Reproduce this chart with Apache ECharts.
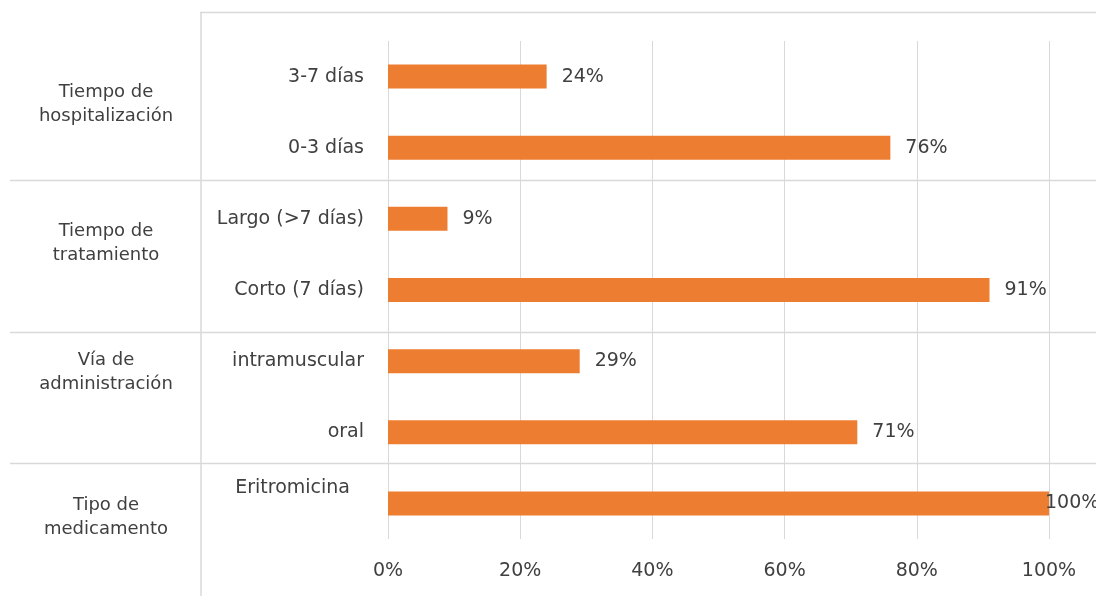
<!DOCTYPE html>
<html>
<head>
<meta charset="utf-8">
<script src="https://cdn.jsdelivr.net/npm/echarts@6/dist/echarts.min.js"></script>
<style>
  html, body { margin: 0; padding: 0; background: #fff; }
  #chart { width: 1096px; height: 596px; }
</style>
</head>
<body>
<div id="chart"></div>
<script>
// Rows, top to bottom
const categories = ['3-7 días', '0-3 días', 'Largo (>7 días)', 'Corto (7 días)', 'intramuscular', 'oral', 'Eritromicina'];
// Share of patients (%)
const values = [24, 76, 9, 91, 29, 71, 100];
// Groups: label lines and the row indices each group spans
const groupNames = [
  ['Tiempo de', 'hospitalización'],
  ['Tiempo de', 'tratamiento'],
  ['Vía de', 'administración'],
  ['Tipo de', 'medicamento']
];
const groupRows = [[0, 1], [2, 3], [4, 5], [6, 6]];
const xTicks = [0, 20, 40, 60, 80, 100];

const FONT = 'DejaVu Sans';
const TEXT = '#404040';
const GRID = '#d9d9d9';
const ORANGE = '#ED7D31';

const chart = echarts.init(document.getElementById('chart'), null, { renderer: 'canvas' });

const barData = values.map(v => (v >= 100 ? { value: v, label: { offset: [-19, 0] } } : v));

chart.setOption({
  animation: false,
  backgroundColor: '#fff',
  grid: { left: 388, right: 47, top: 41, bottom: 57 },
  xAxis: {
    type: 'value',
    min: xTicks[0],
    max: xTicks[xTicks.length - 1],
    interval: xTicks[1] - xTicks[0],
    axisLine: { show: false },
    axisTick: { show: false },
    splitLine: { lineStyle: { color: GRID, width: 1 } },
    axisLabel: {
      formatter: '{value}%',
      color: TEXT,
      fontFamily: FONT,
      fontSize: 19,
      margin: 23
    }
  },
  yAxis: {
    type: 'category',
    inverse: true,
    data: categories,
    axisLine: { show: false },
    axisTick: { show: false },
    axisLabel: {
      color: TEXT,
      fontFamily: FONT,
      fontSize: 19,
      margin: 24,
      // the last row's label sits a little higher and further left
      formatter: (v, i) => (i === categories.length - 1 ? '{up|' + v + '}' : v),
      rich: {
        up: {
          color: TEXT,
          fontFamily: FONT,
          fontSize: 19,
          padding: [0, 14, 30, 0]
        }
      }
    }
  },
  series: [{
    type: 'bar',
    data: barData,
    barWidth: 24,
    itemStyle: { color: ORANGE },
    label: {
      show: true,
      position: 'right',
      distance: 15,
      formatter: '{c}%',
      color: TEXT,
      fontFamily: FONT,
      fontSize: 19
    }
  }]
});

// Frame lines, group separators and group titles on the left
function drawGroups() {
  const W = chart.getWidth();
  const H = chart.getHeight();
  const rowY = i => chart.convertToPixel({ yAxisIndex: 0 }, categories[i]);
  const band = rowY(1) - rowY(0);
  const sepShift = [-3, 6, -5];
  const titleShift = [-8, -11, -24, 14];

  const elements = [
    { type: 'line', shape: { x1: 200, y1: 12.5, x2: W, y2: 12.5 }, style: { stroke: GRID, lineWidth: 1.5 }, silent: true },
    { type: 'line', shape: { x1: 201, y1: 12, x2: 201, y2: H }, style: { stroke: GRID, lineWidth: 1.5 }, silent: true }
  ];

  groupRows.forEach((rows, g) => {
    if (g > 0) {
      const y = Math.round(rowY(rows[0]) - band / 2 + sepShift[g - 1]) + 0.5;
      elements.push({ type: 'line', shape: { x1: 10, y1: y, x2: W, y2: y }, style: { stroke: GRID, lineWidth: 1.5 }, silent: true });
    }
    const cy = (rowY(rows[0]) + rowY(rows[1])) / 2 + titleShift[g];
    elements.push({
      type: 'text',
      x: 106,
      y: cy,
      silent: true,
      style: {
        text: groupNames[g].join('\n'),
        fill: TEXT,
        font: '18px "' + FONT + '"',
        lineHeight: 24,
        align: 'center',
        verticalAlign: 'middle'
      }
    });
  });

  chart.setOption({ graphic: elements });
}
drawGroups();
</script>
</body>
</html>
